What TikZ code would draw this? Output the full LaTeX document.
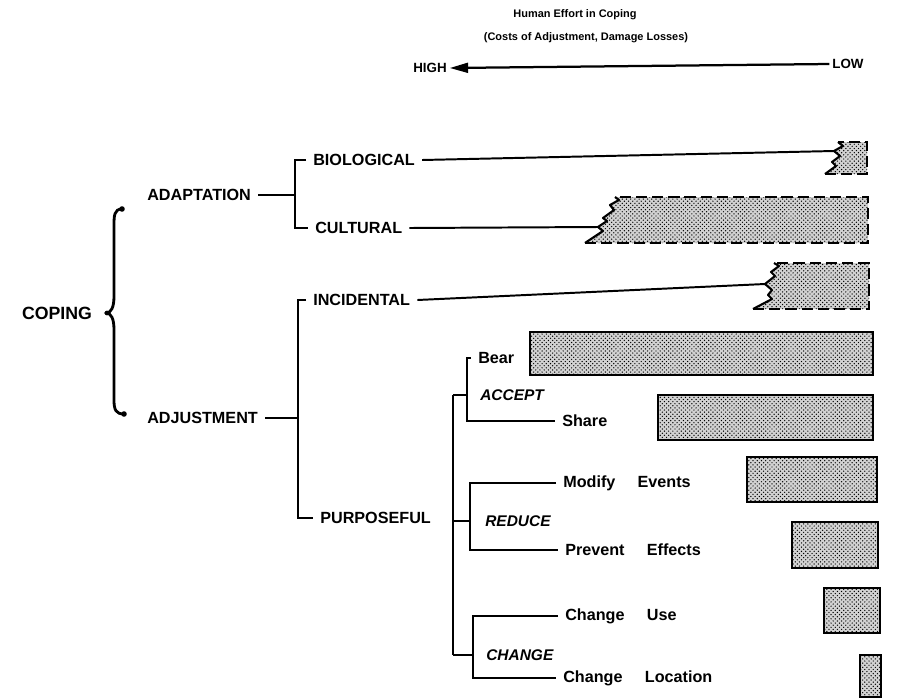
\documentclass[tikz,border=0pt]{standalone}
\usepackage{fontspec}
\setmainfont{Liberation Sans}
\usetikzlibrary{arrows.meta,patterns}

\begin{document}
\begin{tikzpicture}[x=0.025cm, y=-0.025cm,
  lbl/.style={anchor=west, inner xsep=5pt, inner ysep=2pt, font=\fontsize{11.5}{14}\selectfont\bfseries},
  grp/.style={anchor=west, inner xsep=5pt, inner ysep=2pt, font=\fontsize{11}{14}\selectfont\bfseries\itshape},
  ttl/.style={inner sep=0pt, font=\fontsize{7.8}{9}\selectfont\bfseries},
  ends/.style={inner sep=2pt, font=\fontsize{9.5}{11}\selectfont\bfseries},
  tree/.style={line width=1.4pt},
  bar/.style={line width=1.6pt, preaction={fill=gray!35}, pattern=crosshatch dots},
  frayed/.style={preaction={fill=gray!35}, pattern=crosshatch dots},
  ragged/.style={line width=1.5pt, line join=round},
  fringe/.style={line width=1.6pt, dash pattern=on 8pt off 3.5pt}]

  \useasboundingbox (0,0) rectangle (909,699);

  % Effort scale
  \node[ttl] (effort) at (575,15) {Human Effort in Coping};
  \node[ttl] (costs) at (586,38) {(Costs of Adjustment, Damage Losses)};
  \node[ends] (high) at (430,68) {HIGH};
  \node[ends] (low) at (848,64) {LOW};
  \draw[line width=1.6pt, -{Triangle[length=13pt,width=7pt]}] (low.west) -- (high.east);

  % Root and brace
  \node[font=\fontsize{12.6}{14}\selectfont\bfseries, inner sep=2pt] (coping) at (57,313) {COPING};
  \draw[line width=2pt] (122,209) .. controls (114,209) and (114,216) .. (114,226) -- (114,296)
    .. controls (114,308) and (111,312) .. (107,313)
    .. controls (111,314) and (114,318) .. (114,330) -- (114,400)
    .. controls (114,410) and (116,414) .. (124,414);
  \fill (122,209) circle (2.8);
  \fill (124,414) circle (2.8);
  \fill (107,313) circle (2.4);

  % Adaptation
  \node[lbl] (adapt) at (140,195) {ADAPTATION};
  \node[lbl] (bio) at (306,160) {BIOLOGICAL};
  \node[lbl] (cult) at (308,228) {CULTURAL};
  \coordinate (adx) at (295,0);
  \draw[tree] (adapt.east) -- (adapt.east -| adx);
  \draw[tree] (bio.west) -- (bio.west -| adx) -- (cult.west -| adx) -- (cult.west);

  \coordinate (bioNotch) at (834,151);
  \coordinate (cultNotch) at (598,227);
  \draw[tree] (bio.east) -- (bioNotch);
  \draw[tree] (cult.east) -- (cultNotch);

  % Biological effort
  \fill[frayed] (838,142) -- (843,146) -- (834,151) -- (840,156) -- (832,162) -- (836,166) -- (825,174)
    -- (867,174) -- (867,142) -- cycle;
  \draw[ragged] (838,142) -- (843,146) -- (834,151) -- (840,156) -- (832,162) -- (836,166) -- (825,174);
  \draw[fringe] (825,174) -- (867,174) -- (867,142) -- (838,142);

  % Cultural effort
  \fill[frayed] (615,197) -- (619,200) -- (610,205) -- (614,210) -- (603,218) -- (607,221) -- (598,227)
    -- (603,231) -- (594,237) -- (585,243) -- (868,243) -- (868,197) -- cycle;
  \draw[ragged] (615,197) -- (619,200) -- (610,205) -- (614,210) -- (603,218) -- (607,221) -- (598,227)
    -- (603,231) -- (594,237) -- (585,243);
  \draw[fringe] (585,243) -- (868,243) -- (868,197) -- (615,197);

  % Adjustment
  \node[lbl] (adjust) at (140,418) {ADJUSTMENT};
  \node[lbl] (incid) at (306,300) {INCIDENTAL};
  \node[lbl] (purp) at (313,518) {PURPOSEFUL};
  \coordinate (ajx) at (298,0);
  \draw[tree] (adjust.east) -- (adjust.east -| ajx);
  \draw[tree] (incid.west) -- (incid.west -| ajx) -- (purp.west -| ajx) -- (purp.west);

  \coordinate (incNotch) at (765,284);
  \draw[tree] (incid.east) -- (incNotch);

  % Incidental effort
  \fill[frayed] (774,263) -- (779,266) -- (771,272) -- (775,276) -- (765,284) -- (772,290) -- (768,295)
    -- (772,299) -- (753,309) -- (869,309) -- (869,263) -- cycle;
  \draw[ragged] (774,263) -- (779,266) -- (771,272) -- (775,276) -- (765,284) -- (772,290) -- (768,295)
    -- (772,299) -- (753,309);
  \draw[fringe] (753,309) -- (869,309) -- (869,263) -- (774,263);

  % Purposeful adjustments
  \coordinate (px) at (453,0);
  \node[grp] (accept) at (473,395) {ACCEPT};
  \node[lbl] (bear) at (471,358) {Bear};
  \node[lbl] (share) at (555,421) {Share};
  \coordinate (acx) at (467,0);
  \draw[tree] (bear.west) -- (bear.west -| acx) -- (share.west -| acx) -- (share.west);
  \draw[tree] (accept.west -| px) -- (accept.west -| acx);

  \node[grp] (reduce) at (478,521) {REDUCE};
  \node[lbl] (modify) at (556,483) {Modify\hspace{1.1em} Events};
  \node[lbl] (prevent) at (558,550) {Prevent\hspace{1.1em} Effects};
  \coordinate (rdx) at (470,0);
  \draw[tree] (modify.west) -- (modify.west -| rdx) -- (prevent.west -| rdx) -- (prevent.west);
  \draw[tree] (reduce.west -| px) -- (reduce.west -| rdx);

  \node[grp] (change) at (479,655) {CHANGE};
  \node[lbl] (use) at (558,616) {Change\hspace{1.1em} Use};
  \node[lbl] (location) at (556,678) {Change\hspace{1.1em} Location};
  \coordinate (chx) at (473,0);
  \draw[tree] (use.west) -- (use.west -| chx) -- (location.west -| chx) -- (location.west);
  \draw[tree] (change.west -| px) -- (change.west -| chx);

  \draw[tree] (accept.west -| px) -- (change.west -| px);

  % Effort bars
  \draw[bar] (530,332) rectangle (873,375);
  \draw[bar] (658,395) rectangle (873,440);
  \draw[bar] (747,457) rectangle (877,502);
  \draw[bar] (792,522) rectangle (878,568);
  \draw[bar] (824,588) rectangle (880,633);
  \draw[bar] (860,655) rectangle (881,697);
\end{tikzpicture}
\end{document}
